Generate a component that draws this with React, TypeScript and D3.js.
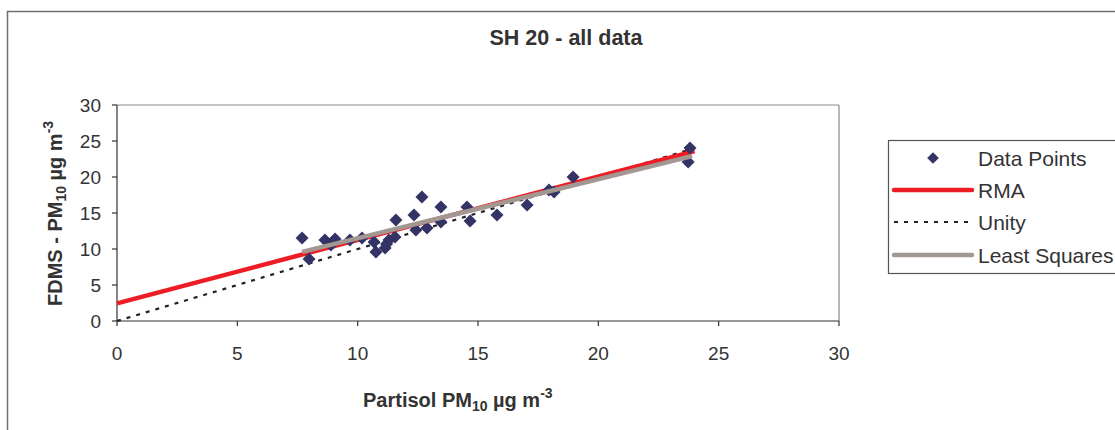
import React from "react";
import * as d3 from "d3";

const pointsX = [7.69, 7.98, 8.64, 9.06, 8.89, 9.68, 10.18, 10.68, 10.76, 11.14, 11.3, 11.2, 11.59, 11.55, 12.34, 12.67, 12.42, 12.88, 13.46, 13.46, 14.54, 14.67, 15.79, 17.04, 17.95, 18.16, 18.95, 23.81, 23.73];
const pointsY = [11.53, 8.61, 11.25, 11.39, 10.56, 11.25, 11.53, 10.97, 9.58, 10.14, 11.25, 10.7, 14.03, 11.67, 14.72, 17.22, 12.64, 12.92, 15.83, 13.75, 15.83, 13.89, 14.72, 16.11, 18.19, 17.92, 20.0, 24.03, 22.08];

const rmaX = [0, 24.0];
const rmaY = [2.45, 23.6];
const unityX = [0, 23.9];
const unityY = [0, 23.9];
const lsX = [7.69, 23.9];
const lsY = [9.6, 22.9];

const xTicks = [0, 5, 10, 15, 20, 25, 30];
const yTicks = [0, 5, 10, 15, 20, 25, 30];

const legendLabels = ["Data Points", "RMA", "Unity", "Least Squares"];

const FONT = "'Liberation Sans', Arial, Helvetica, sans-serif";

export default function App() {
  const W = 1115, H = 430;
  const left = 117, right = 839, top = 105, bottom = 321;
  const x = d3.scaleLinear().domain([0, 30]).range([left, right]);
  const y = d3.scaleLinear().domain([0, 30]).range([bottom, top]);
  const line = d3.line<[number, number]>().x(d => x(d[0])).y(d => y(d[1]));
  const zip = (a: number[], b: number[]) => a.map((v, i) => [v, b[i]] as [number, number]);
  const diamondPath = "M0,-6.5L6.5,0L0,6.5L-6.5,0Z";
  const navy = "#333366";

  const legY = [158, 190, 222, 255];

  return (
    <svg width={W} height={H} style={{ position: "absolute", left: 0, top: 0, background: "#fff" }} fontFamily={FONT}>
      <rect x={0} y={0} width={W} height={H} fill="#fff" />
      <rect x={7.5} y={11.5} width={1200} height={500} fill="none" stroke="#6e6e6e" strokeWidth={1.5} />
      <text x={566} y={45} textAnchor="middle" fontWeight="bold" fontSize={21.5} fill="#333">SH 20 - all data</text>

      {/* plot frame */}
      <line x1={left} x2={right} y1={top} y2={top} stroke="#888" strokeWidth={1.2} />
      <line x1={right} x2={right} y1={top} y2={bottom} stroke="#888" strokeWidth={1.2} />
      <line x1={left} x2={left} y1={top} y2={bottom} stroke="#333" strokeWidth={1.2} />
      <line x1={left} x2={right} y1={bottom} y2={bottom} stroke="#333" strokeWidth={1.2} />

      {xTicks.map(t => (
        <g key={"xt" + t}>
          <line x1={x(t)} x2={x(t)} y1={bottom} y2={bottom + 5} stroke="#333" strokeWidth={1.2} />
          <text x={x(t)} y={360} textAnchor="middle" fontSize={19} fill="#333">{t}</text>
        </g>
      ))}
      {yTicks.map(t => (
        <g key={"yt" + t}>
          <line x1={left - 5} x2={left} y1={y(t)} y2={y(t)} stroke="#333" strokeWidth={1.2} />
          <text x={101} y={y(t) + 7} textAnchor="end" fontSize={19} fill="#333">{t}</text>
        </g>
      ))}

      <text x={363} y={407} fontWeight="bold" fontSize={20} fill="#333">
        Partisol PM<tspan fontSize={14} dy={4}>10</tspan><tspan dy={-4}> µg m</tspan><tspan fontSize={14} dy={-9}>-3</tspan>
      </text>
      <text transform="translate(62,306) rotate(-90)" fontWeight="bold" fontSize={20} fill="#333">
        FDMS - PM<tspan fontSize={14} dy={4}>10</tspan><tspan dy={-4}> µg m</tspan><tspan fontSize={14} dy={-9}>-3</tspan>
      </text>

      {/* lines */}
      <path d={line(zip(unityX, unityY)) || ""} fill="none" stroke="#222" strokeWidth={2.2} strokeDasharray="4,6" />
      <path d={line(zip(rmaX, rmaY)) || ""} fill="none" stroke="#ee1c24" strokeWidth={4.5} />
      {pointsX.map((v, i) => (
        <path key={"p" + i} d={diamondPath} transform={`translate(${x(v)},${y(pointsY[i])})`} fill={navy} />
      ))}
      <path d={line(zip(lsX, lsY)) || ""} fill="none" stroke="#a39791" strokeWidth={4.5} />

      {/* legend */}
      <rect x={888.5} y={140.5} width={300} height={133} fill="#fff" stroke="#555" strokeWidth={1.2} />
      <path d={diamondPath} transform={`translate(933,${legY[0]}) scale(0.9)`} fill={navy} />
      <line x1={894} x2={972} y1={legY[1]} y2={legY[1]} stroke="#ee1c24" strokeWidth={4.5} strokeLinecap="round" />
      <line x1={894} x2={972} y1={legY[2]} y2={legY[2]} stroke="#222" strokeWidth={2.2} strokeDasharray="4,6" />
      <line x1={894} x2={972} y1={legY[3]} y2={legY[3]} stroke="#a39791" strokeWidth={4.5} strokeLinecap="round" />
      {legendLabels.map((l, i) => (
        <text key={l} x={978} y={legY[i] + 7.5} fontSize={21} fill="#333">{l}</text>
      ))}
    </svg>
  );
}
